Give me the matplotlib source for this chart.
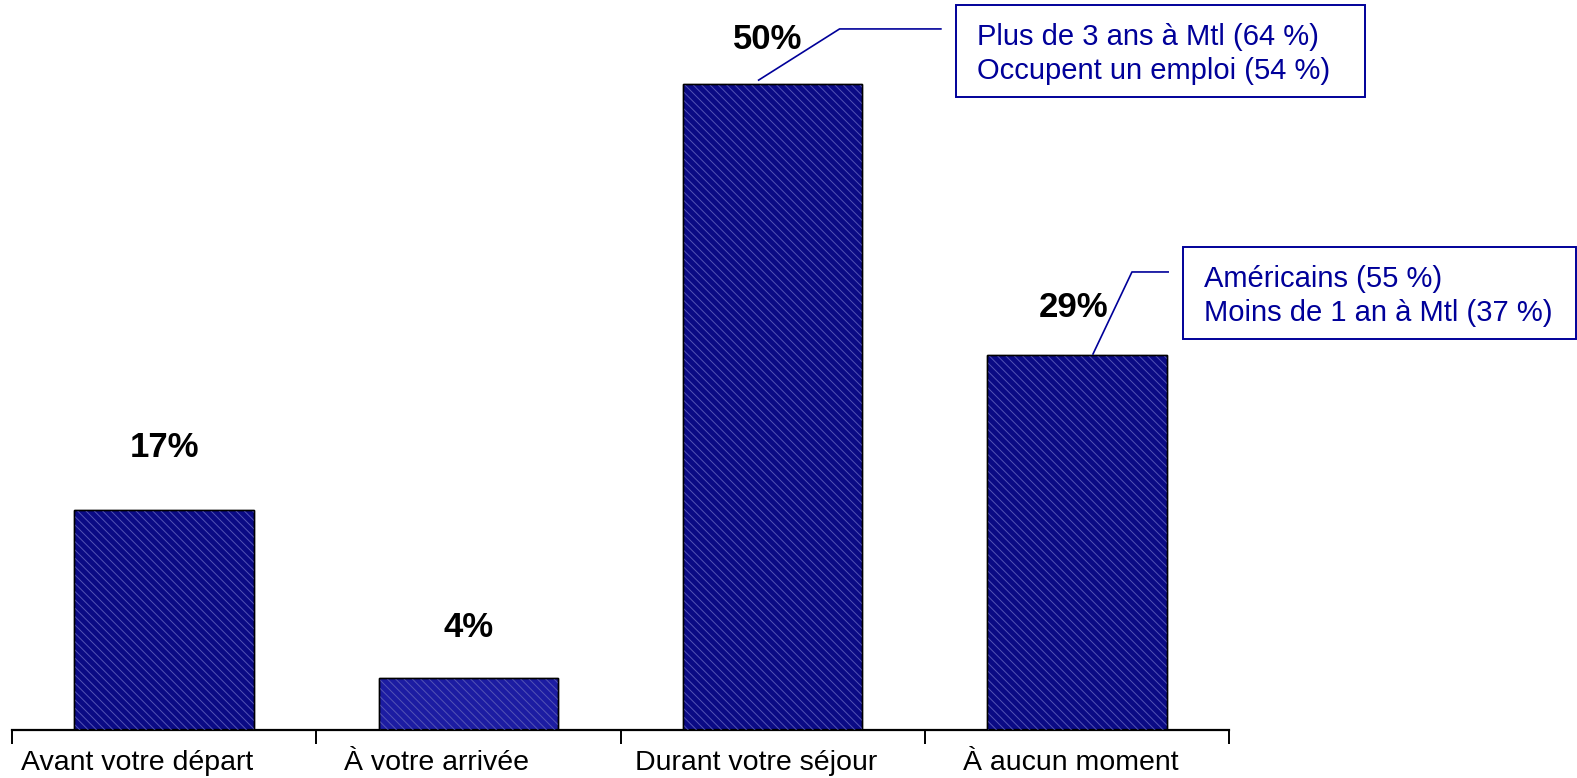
import numpy as np
import matplotlib
matplotlib.use('Agg')
import matplotlib.pyplot as plt
from matplotlib.patches import Rectangle

# data
categories = ['Avant votre départ', 'À votre arrivée', 'Durant votre séjour', 'À aucun moment']
values = [17, 4, 50, 29]
value_labels = ['17%', '4%', '50%', '29%']
note_bar = [2, 3]
note_lines = [['Plus de 3 ans à Mtl (64 %)', 'Occupent un emploi (54 %)'],
              ['Américains (55 %)', 'Moins de 1 an à Mtl (37 %)']]

plt.rcParams['font.family'] = ['Liberation Sans', 'DejaVu Sans']
plt.rcParams['hatch.linewidth'] = 0.7

W, H = 1577, 778
navy = '#000099'
bar_colors = ['#0a0a84', '#1c1ca2', '#0a0a84', '#0a0a84']
label_shift = [-0.09, -0.105, -0.055, -0.02]
# value label placement: baseline above bar top, small x nudge
val_dy = [4.1, 3.2, 2.7, 3.0]
val_dx = [0, 0, -0.015, -0.01]
# leader geometry (dx, dy relative to bar top): start, elbow, end
leaders = [[(-0.046, 0.3), (0.22, 4.26), (0.553, 4.26)],
           [(0.053, 0.1), (0.181, 6.45), (0.30, 6.45)]]
# boxes in pixels: left, top, right, bottom
boxes = [(956, 5, 1365, 97), (1183, 247, 1576, 339)]

fig = plt.figure(figsize=(W / 100, H / 100), dpi=100)
ax = fig.add_axes([12 / W, 48 / H, (1229 - 12) / W, 730 / H])

x = np.arange(len(categories))
ax.bar(x, values, width=0.59, color=bar_colors, edgecolor='black', linewidth=1.0, zorder=2)
ax.bar(x, values, width=0.59, color='none', edgecolor='#5454b4', linewidth=0, hatch='\\\\\\\\', zorder=3)
ax.bar(x, values, width=0.59, color='none', edgecolor='black', linewidth=1.0, zorder=4)

ax.set_xlim(-0.5, len(categories) - 0.5)
ax.set_ylim(0, 56.5)
for s in ['top', 'right', 'left']:
    ax.spines[s].set_visible(False)
ax.spines['bottom'].set_linewidth(1.6)
ax.set_yticks([])
ax.set_xticks(np.arange(len(categories) + 1) - 0.5)
ax.set_xticklabels([])
ax.tick_params(axis='x', direction='out', length=10, width=1.4, color='black')

for i, lab in enumerate(categories):
    ax.annotate(lab, xy=(i + label_shift[i], 0), xycoords=('data', 'axes fraction'),
                xytext=(0, -28.5), textcoords='offset points',
                ha='center', va='baseline', fontsize=20.5, color='black')

for i, v in enumerate(values):
    ax.text(i + val_dx[i], v + val_dy[i], value_labels[i], ha='center', va='baseline',
            fontsize=25, fontweight='bold', color='black')

for k, b in enumerate(note_bar):
    pts = [(b + dx, values[b] + dy) for dx, dy in leaders[k]]
    ax.plot([p[0] for p in pts], [p[1] for p in pts], color=navy, lw=1.2,
            clip_on=False, zorder=5)
    l, t, r, bt = boxes[k]
    fig.add_artist(Rectangle((l / W, 1 - bt / H), (r - l) / W, (bt - t) / H,
                             transform=fig.transFigure, fill=False,
                             edgecolor=navy, linewidth=1.4))
    fig.text((l + 21) / W, 1 - ((t + bt) / 2 + 3) / H, '\n'.join(note_lines[k]),
             ha='left', va='center', fontsize=21, color=navy, linespacing=1.3)

fig.savefig('out.png', dpi=100)
